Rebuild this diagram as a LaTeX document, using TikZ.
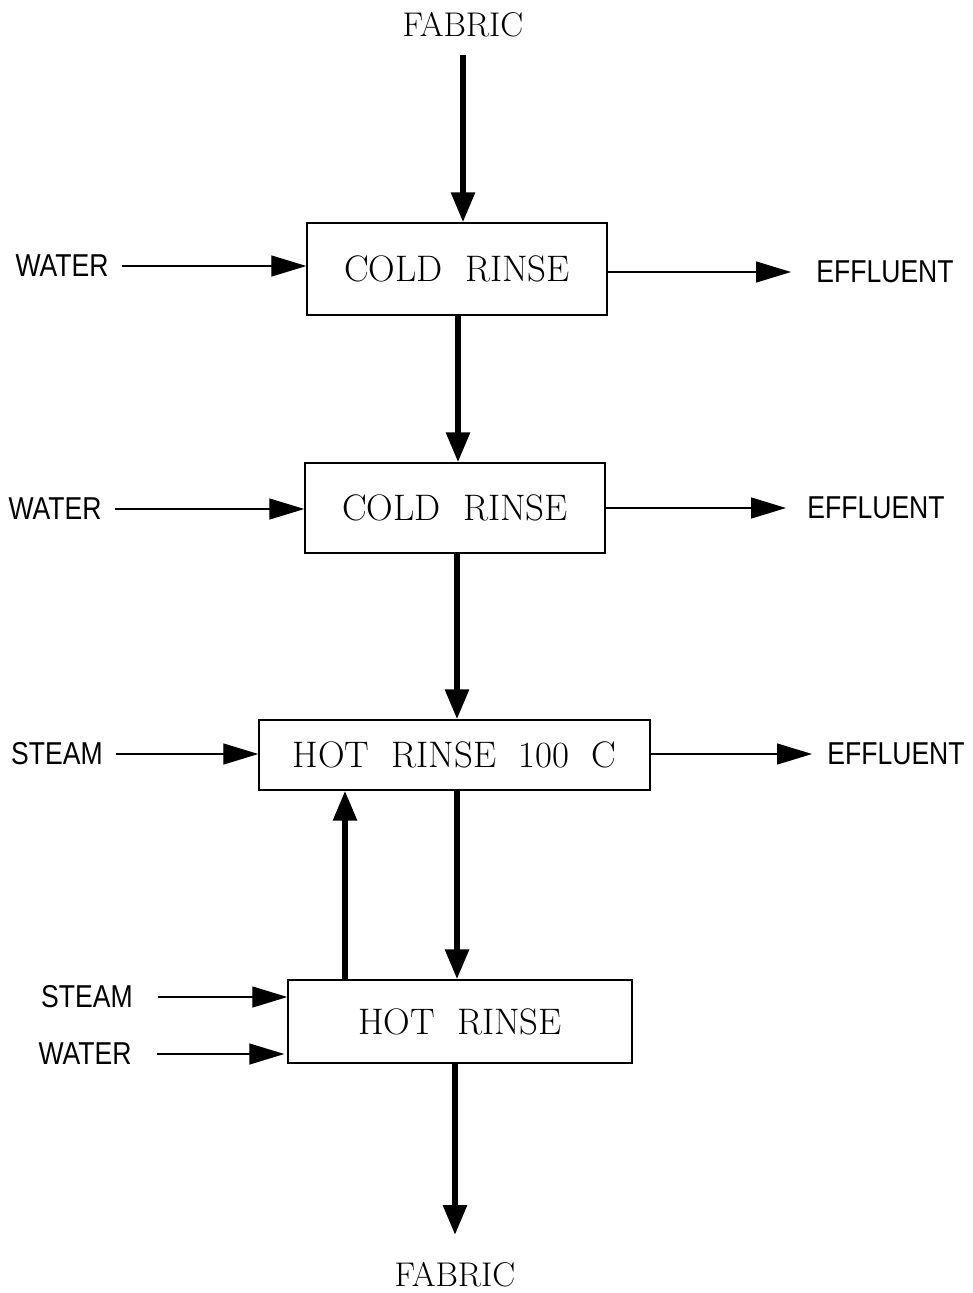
\documentclass[tikz,border=0pt]{standalone}
\usepackage{fontspec}
\usepackage{tikz}
\usetikzlibrary{positioning, arrows.meta}
\newfontfamily\sidefont[FakeStretch=0.84]{Liberation Sans}

\begin{document}
\begin{tikzpicture}[
    x=0.2mm, y=-0.2mm,
    box/.style={draw, line width=0.8pt, inner sep=0pt, align=center, font=\fontsize{21}{25}\selectfont},
    endlabel/.style={inner sep=0pt, font=\fontsize{19.5}{23}\selectfont},
    sidelabel/.style={inner sep=0pt, font=\sidefont\fontsize{18}{21}\selectfont},
    flow/.style={-{Triangle[length=6mm, width=4.6mm]}, line width=3.4pt},
    feed/.style={-{Triangle[length=7mm, width=4.2mm]}, line width=0.8pt}
]
\useasboundingbox (0,0) rectangle (973,1293);

% Rinse stages
\node[box, minimum width=60mm, minimum height=18.4mm] (cold1) at (457,269) {COLD\ \ RINSE};
\node[box, minimum width=60mm, minimum height=18mm] (cold2) at (455,508) {COLD\ \ RINSE};
\node[box, minimum width=78.2mm, minimum height=14mm] (hot1) at (454.5,755) {HOT\ \ RINSE\ \ 100\ \ C};
\node[box, minimum width=68.8mm, minimum height=16.6mm] (hot2) at (460,1021.5) {HOT\ \ RINSE};

% Fabric in and out
\node[endlabel] (fabin) at (463,25) {FABRIC};
\node[endlabel] (fabout) at (455,1275) {FABRIC};

\draw[flow] (fabin.south) ++(0,17) coordinate (fabtop) -- (fabtop |- cold1.north);
\draw[flow] ([xshift=0.2mm]cold1.south) -- ([xshift=0.2mm]cold1.south |- cold2.north);
\draw[flow] ([xshift=0.4mm]cold2.south) -- ([xshift=0.4mm]cold2.south |- hot1.north);
\draw[flow] ([xshift=0.5mm]hot1.south) -- ([xshift=0.5mm]hot1.south |- hot2.north);
\draw[flow] ([xshift=-23mm]hot2.north) -- ([xshift=-23mm]hot2.north |- hot1.south);
\draw[flow] ([xshift=-1mm]hot2.south) -- ([xshift=-1mm]hot2.south |- 0,1235);

% Feeds
\node[sidelabel] (water1) at (62,266) {WATER};
\node[sidelabel] (water2) at (55,509) {WATER};
\node[sidelabel] (steam1) at (57,754) {STEAM};
\node[sidelabel] (steam2) at (87,997) {STEAM};
\node[sidelabel] (water3) at (85,1054) {WATER};

\draw[feed, shorten <=2.6mm] (water1.east) -- (water1.east -| cold1.west);
\draw[feed, shorten <=2.6mm] (water2.east) -- (water2.east -| cold2.west);
\draw[feed, shorten <=2.6mm] (steam1.east) -- (steam1.east -| hot1.west);
\draw[feed, shorten <=5mm] (steam2.east) -- (steam2.east -| hot2.west);
\draw[feed, shorten <=5mm, shorten >=0.6mm] (water3.east) -- (water3.east -| hot2.west);

% Effluents
\node[sidelabel] (eff1) at (885,272) {EFFLUENT};
\node[sidelabel] (eff2) at (876,508) {EFFLUENT};
\node[sidelabel] (eff3) at (896,754) {EFFLUENT};

\draw[feed, shorten >=5mm] (eff1.west -| cold1.east) -- (eff1.west);
\draw[feed, shorten >=4.2mm] (eff2.west -| cold2.east) -- (eff2.west);
\draw[feed, shorten >=3mm] (eff3.west -| hot1.east) -- (eff3.west);

\end{tikzpicture}
\end{document}
